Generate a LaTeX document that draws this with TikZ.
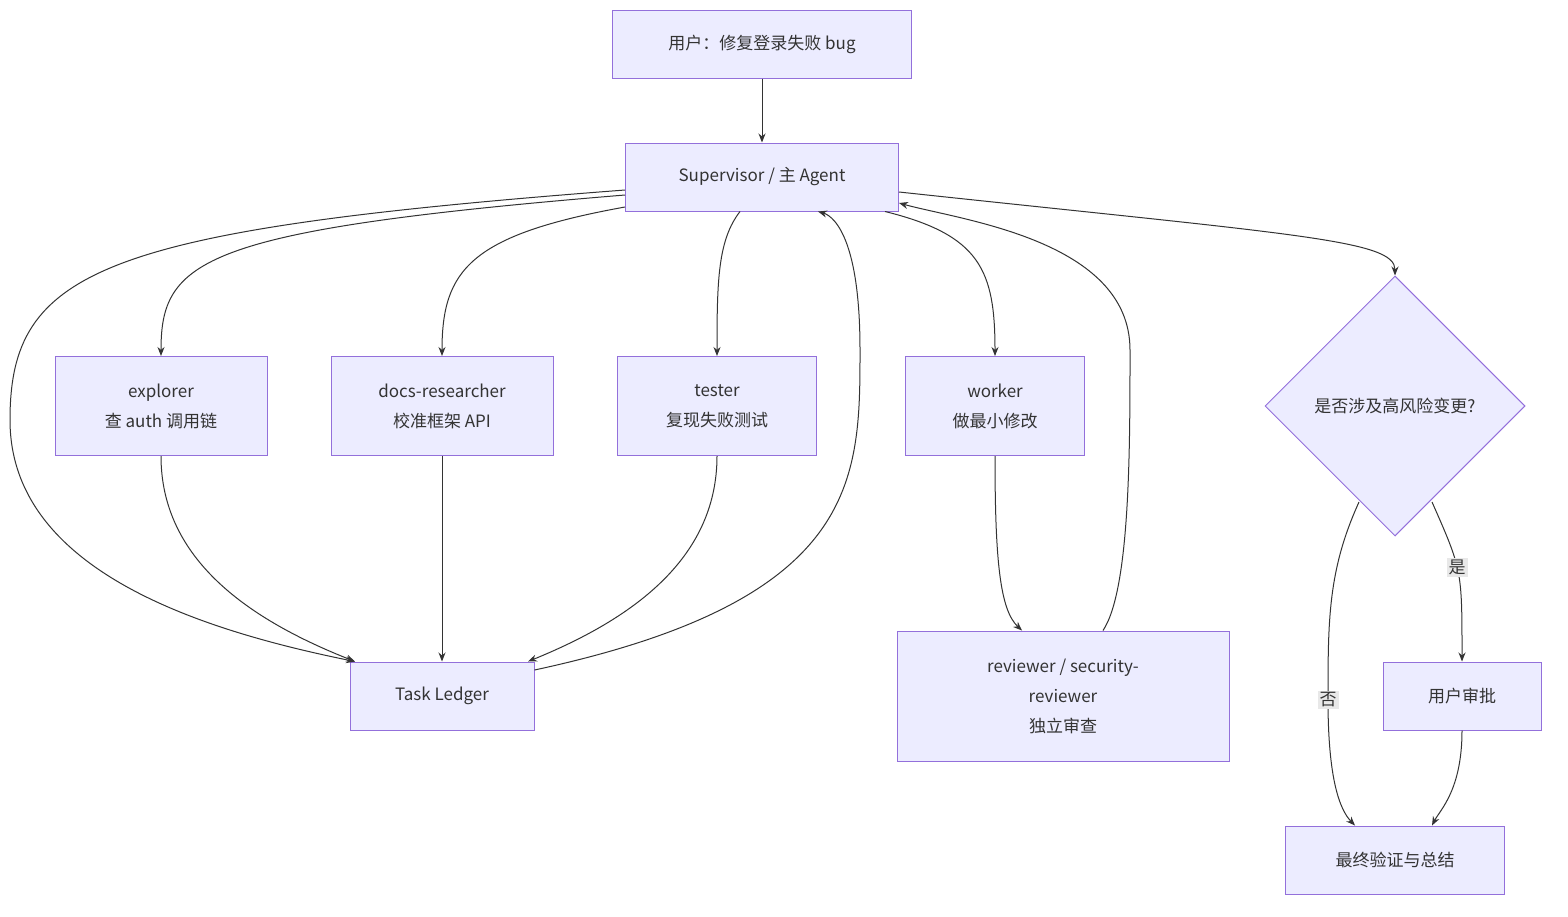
\documentclass[tikz,border=0pt]{standalone}
\usepackage{fontspec}
\setmainfont{Noto Sans CJK SC}
\usetikzlibrary{shapes.geometric,arrows.meta}
\definecolor{nfill}{HTML}{ECECFF}
\definecolor{nline}{HTML}{9370DB}
\definecolor{eline}{HTML}{333333}
\definecolor{lbg}{HTML}{E8E8E8}
\begin{document}
\begin{tikzpicture}[x=1pt,y=-1pt,
  box/.style={draw=nline,fill=nfill,line width=1pt,rectangle,inner sep=0pt,align=center,font=\fontsize{17}{30}\selectfont,text=eline},
  dia/.style={draw=nline,fill=nfill,line width=1pt,diamond,inner sep=0pt,minimum width=260pt,minimum height=260pt,font=\fontsize{17}{22}\selectfont,text=eline},
  edge/.style={draw=eline,line width=1pt,-{Stealth[length=9pt,width=7pt]}},
  lab/.style={fill=lbg,inner sep=2pt,font=\fontsize{17}{20}\selectfont,text=eline}]
\useasboundingbox[fill=white] (0,0) rectangle (1568,916);
\node[box,minimum width=299pt,minimum height=68pt] (user) at (762,44) {用户：修复登录失败 bug};
\node[box,minimum width=273pt,minimum height=68pt] (sup) at (762,177) {Supervisor / 主 Agent};
\node[box,minimum width=212pt,minimum height=99pt] (exp) at (161,406) {explorer\\查 auth 调用链};
\node[box,minimum width=222pt,minimum height=99pt] (docs) at (442,406) {docs-researcher\\校准框架 API};
\node[box,minimum width=199pt,minimum height=99pt] (tes) at (717,406) {tester\\复现失败测试};
\node[box,minimum width=179pt,minimum height=99pt] (wor) at (995,406) {worker\\做最小修改};
\node[dia] (dia) at (1395,406) {是否涉及高风险变更?};
\node[box,minimum width=184pt,minimum height=68pt] (led) at (442,696) {Task Ledger};
\node[box,minimum width=332pt,minimum height=130pt] (rev) at (1063,696) {reviewer / security-\\reviewer\\独立审查};
\node[box,minimum width=158pt,minimum height=68pt] (app) at (1462,696) {用户审批};
\node[box,minimum width=219pt,minimum height=68pt] (fin) at (1395,860) {最终验证与总结};

\draw[edge] (user) -- (sup);
\draw[edge] ([yshift=-18pt]sup.west) .. controls (200,230) and (161,260) .. (exp.north);
\draw[edge] ([yshift=-13pt]sup.west) .. controls (100,230) and (10,270) .. (10,420) .. controls (10,570) and (200,630) .. ([xshift=-87pt]led.north);
\draw[edge] ([yshift=-30pt]sup.west) .. controls (470,235) and (442,270) .. (docs.north);
\draw[edge] ([xshift=-22pt]sup.south) .. controls (718,240) and (717,280) .. (tes.north);
\draw[edge] ([xshift=123pt]sup.south) .. controls (980,235) and (995,270) .. (wor.north);
\draw[edge] ([yshift=-15pt]sup.east) .. controls (1300,235) and (1395,240) .. (dia.north);
\draw[edge] (exp.south) .. controls (161,560) and (250,620) .. ([xshift=-87pt]led.north);
\draw[edge] (docs) -- (led);
\draw[edge] (tes.south) .. controls (717,560) and (630,620) .. ([xshift=86pt]led.north);
\draw[edge] ([yshift=26pt]led.east) .. controls (860,600) and (860,480) .. (860,350) .. controls (860,230) and (830,215) .. ([xshift=56pt]sup.south);
\draw[edge] (wor.south) .. controls (995,560) and (1000,610) .. ([xshift=-41pt]rev.north);
\draw[edge] ([xshift=40pt]rev.north) .. controls (1130,590) and (1130,450) .. (1130,350) .. controls (1130,240) and (960,220) .. ([yshift=-26pt]sup.east);
\draw[edge] ([xshift=37pt,yshift=-96pt]dia.center) .. controls (1462,570) .. node[lab,pos=0.45]{是} (app.north);
\draw[edge] ([xshift=-36pt,yshift=-96pt]dia.center) .. controls (1328,570) and (1328,620) .. (1328,700) node[lab]{否} .. controls (1328,780) and (1340,810) .. ([xshift=-40pt]fin.north);
\draw[edge] (app.south) .. controls (1462,790) and (1440,810) .. ([xshift=37pt]fin.north);
\end{tikzpicture}
\end{document}
